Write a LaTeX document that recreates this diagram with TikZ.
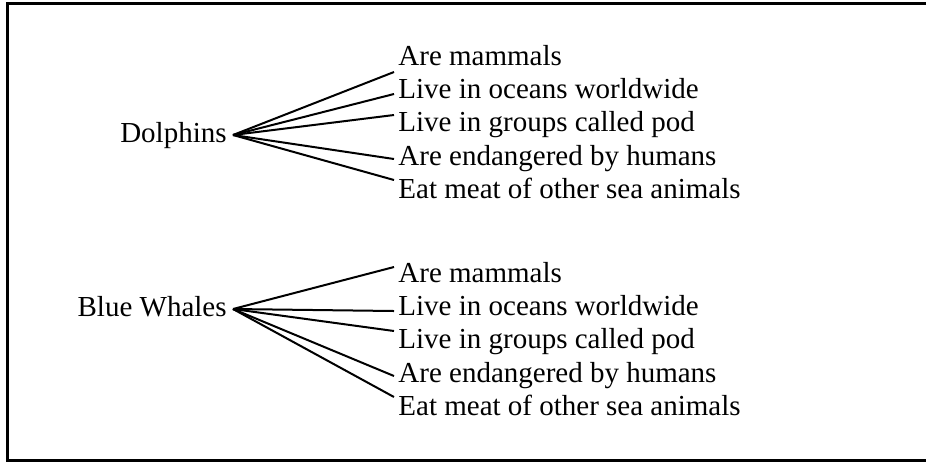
\documentclass[tikz,border=0pt]{standalone}
\usepackage{fontspec}
\setmainfont{Liberation Serif}
\usetikzlibrary{positioning}
\tikzset{
  root/.style={anchor=east, inner xsep=3pt, inner ysep=0pt, text height=0.7em, text depth=0pt},
  leaf/.style={anchor=base west, inner xsep=2pt, inner ysep=0pt, text height=0.7em, text depth=0.25em},
  fan/.style={line width=1pt},
  frame/.style={line width=1.5pt}
}

\begin{document}
\begin{tikzpicture}[x=0.5pt, y=-0.5pt, font=\fontsize{14.5}{17}\selectfont]
    \useasboundingbox (0,0) rectangle (935,462);

    % Frame (open on the right)
    \draw[frame] (926,3) -- (7.5,3) -- (7.5,460.5) -- (926,460.5);

    % Dolphins
    \node[root] (dolphins) at (233,135) {Dolphins};
    \foreach \name/\base/\shift/\txt in {
        d1/65/-5.75/Are mammals,
        d2/98/-0.25/Live in oceans worldwide,
        d3/131/5.75/Live in groups called pod,
        d4/165/0.75/Are endangered by humans,
        d5/198/6.75/Eat meat of other sea animals}
    {
        \node[leaf] (\name) at (394,\base) {\txt};
        \draw[fan] (dolphins.east) -- ([yshift=\shift pt]\name.west);
    }

    % Blue whales
    \node[root] (whales) at (233,309) {Blue Whales};
    \foreach \name/\base/\shift/\txt in {
        w1/282/5.25/Are mammals,
        w2/315/-0.25/Live in oceans worldwide,
        w3/348/6.25/Live in groups called pod,
        w4/382/0.75/Are endangered by humans,
        w5/415/6.75/Eat meat of other sea animals}
    {
        \node[leaf] (\name) at (394,\base) {\txt};
        \draw[fan] (whales.east) -- ([yshift=\shift pt]\name.west);
    }
\end{tikzpicture}
\end{document}
